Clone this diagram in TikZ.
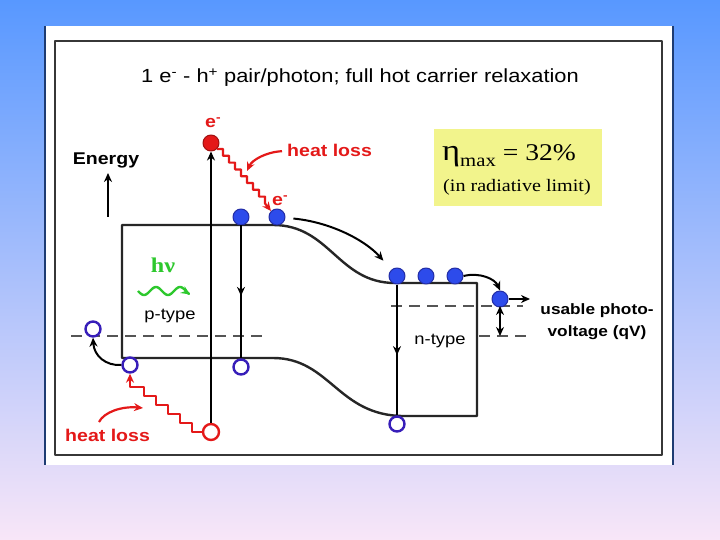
\documentclass[tikz,border=0pt]{standalone}
\usepackage{fontspec}
\setmainfont{Liberation Sans}[FakeStretch=1.15]
\newfontfamily\timesfont{Liberation Serif}[FakeStretch=1.15]
\usetikzlibrary{arrows.meta,decorations.markings}
\definecolor{bgtop}{RGB}{88,152,255}
\definecolor{bgmid}{RGB}{150,195,248}
\definecolor{bgbot}{RGB}{248,230,248}
\definecolor{rim}{RGB}{30,60,115}
\definecolor{framegray}{RGB}{55,55,55}
\definecolor{dotblue}{RGB}{45,75,235}
\definecolor{dotrim}{RGB}{35,45,165}
\definecolor{holeblue}{RGB}{55,30,185}
\definecolor{hotred}{RGB}{228,25,25}
\definecolor{nugreen}{RGB}{45,200,45}
\definecolor{boxyellow}{RGB}{242,244,140}
\definecolor{fermigray}{RGB}{85,85,85}
\begin{document}
\begin{tikzpicture}[x=1pt,y=-1pt,>={Stealth[length=9pt,width=8pt]},line join=round,
  edot/.style={circle,inner sep=0pt,minimum size=16pt,fill=dotblue,draw=dotrim,line width=1pt},
  hole/.style={circle,inner sep=0pt,minimum size=15pt,fill=white,draw=holeblue,line width=2.4pt},
  band/.style={draw=black!85,line width=2.4pt},
  fermi/.style={draw=fermigray,line width=2.4pt,dash pattern=on 11pt off 7pt},
  arr/.style={->,line width=2pt},
  heat/.style={->,hotred,line width=2.2pt},
  midarrow/.style={line width=2pt,postaction={decorate},decoration={markings,mark=at position #1 with {\arrow{>}}}},
  lbl/.style={inner sep=0pt,font=\fontsize{17}{20}\selectfont\bfseries},
  txt/.style={inner sep=0pt,font=\fontsize{#1}{#1}\selectfont}]
  \shade[top color=bgtop,middle color=bgmid,bottom color=bgbot](0,0)rectangle(720,540);
  \fill[white](44,26)rectangle(674,465);
  \draw[rim,line width=2.2pt](45,26)--(45,465)(673,26)--(673,465);
  \draw[framegray,line width=2pt](55,41)rectangle(662,455);
  \node[txt=19,anchor=base](title)at(360,83){1 e\textsuperscript{-} - h\textsuperscript{+} pair/photon; full hot carrier relaxation};
  \draw[band](122,225)--(273,225)..controls(330,225)and(338,283)..(395,283)--(477,283)--(477,416)--(404,416)..controls(338,416)and(330,358)..(273,358)--(122,358)--cycle;
  \draw[fermi](71,336)--(269,336);
  \draw[fermi](391,306)--(523,306);
  \draw[fermi](479,336)--(533,336);
  \node[circle,inner sep=0pt,minimum size=16pt,fill=hotred,draw=hotred!70!black,line width=1pt](hot)at(211,143){};
  \node[hole,draw=hotred,minimum size=16pt](gen)at(211,432){};
  \node[edot](e1)at(241,217){};
  \node[edot](e2)at(277,217){};
  \node[edot](e3)at(397,276){};
  \node[edot](e4)at(426,276){};
  \node[edot](e5)at(455,276){};
  \node[edot](e6)at(500,299){};
  \node[hole](h1)at(241,367){};
  \node[hole](h2)at(130,365){};
  \node[hole](h0)at(93,329){};
  \node[hole](h3)at(397,424){};
  \node[lbl,anchor=base](energy)at(106,165){Energy};
  \node[lbl,hotred,anchor=base west](hl1)at(287,157){heat loss};
  \node[lbl,hotred,anchor=base west](hl2)at(65,441){heat loss};
  \node[lbl,hotred,anchor=base west](ehot)at(205,128){e\textsuperscript{-}};
  \node[lbl,hotred,anchor=base west](ecool)at(272,206){e\textsuperscript{-}};
  \node[anchor=base,inner sep=0pt,text=nugreen,font=\timesfont\bfseries\fontsize{21}{21}\selectfont](hnu)at(163,272){hν};
  \node[txt=16,anchor=base](ptype)at(170,319){p-type};
  \node[txt=16,anchor=base](ntype)at(440,344){n-type};
  \node[lbl,font=\fontsize{15}{22}\selectfont\bfseries,align=center](qv)at(597,322){usable photo-\\voltage (qV)};
  \node[fill=boxyellow,minimum width=168pt,minimum height=77pt,inner sep=0pt](eff)at(518,168){};
  \node[anchor=base west,inner sep=0pt,font=\timesfont\fontsize{24}{24}\selectfont](eta)at(442,161){{\fontsize{30}{30}\selectfont η}\raisebox{-6pt}{\fontsize{18}{18}\selectfont max} = 32\%};
  \node[anchor=base west,inner sep=0pt,font=\timesfont\fontsize{17.5}{20}\selectfont](lim)at(443,192){(in radiative limit)};
  \draw[arr](gen)--(hot);
  \draw[heat](hot.south east)\foreach\k in{1,...,8}{--++(6,0)--++(0,6.8)}--(e2.north west);
  \draw[heat](gen.west)--++(-10,0)\foreach\k in{1,...,5}{--++(0,-9)--++(-12,0)}-|(h2.south);
  \draw[midarrow=0.53](e1)--(h1);
  \draw[midarrow=0.54](e3)--(h3);
  \draw[arr,shorten <=8pt,shorten >=12pt](e2)..controls(330,222)and(365,240)..(e3);
  \draw[arr](e5.east)..controls(480,272)and(495,279)..(e6.north);
  \draw[arr](h2.west)..controls(106,366)and(94,356)..(h0.south);
  \coordinate(eout)at(530,299);
  \draw[arr](e6)--(eout);
  \coordinate(vtop)at(500,306);
  \coordinate(vbot)at(500,336);
  \draw[arr,<->](vtop)--(vbot);
  \coordinate(ebot)at(108,217);
  \coordinate(etop)at(108,173);
  \draw[arr](ebot)--(etop);
  \coordinate(hl1tip)at(247,171);
  \draw[heat,shorten <=5pt](hl1.west)..controls(266,152)and(252,160)..(hl1tip);
  \coordinate(hl2tail)at(99,422);
  \coordinate(hl2tip)at(143,408);
  \draw[heat](hl2tail)..controls(104,412)and(122,406)..(hl2tip);
  \draw[nugreen,line width=2.4pt,->]plot[domain=0:52,samples=50]({138+\x},{291+4*sin(15*\x)});
\end{tikzpicture}
\end{document}
